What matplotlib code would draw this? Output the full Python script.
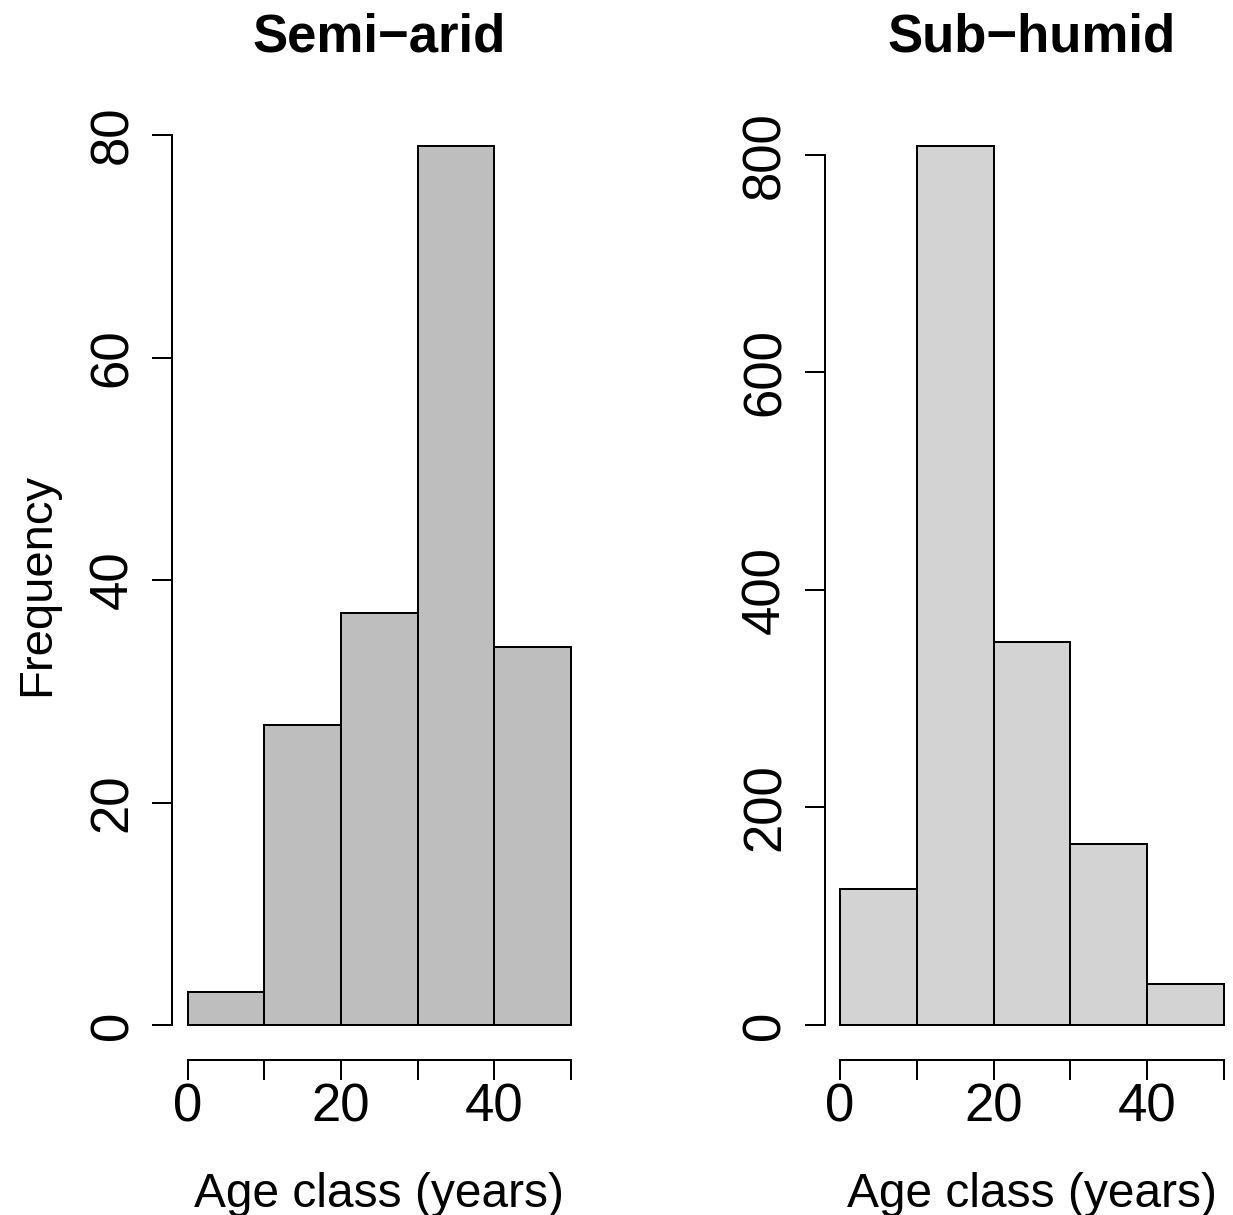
import matplotlib.pyplot as plt
import numpy as np

plt.rcParams['font.family'] = ['Liberation Sans', 'DejaVu Sans']

# Data - histogram counts per 10-year age class
edges = [0, 10, 20, 30, 40, 50]
semi_arid = [3, 27, 37, 79, 34]
sub_humid = [125, 808, 352, 166, 38]
semi_ticks = [0, 20, 40, 60, 80]
sub_ticks = [0, 200, 400, 600, 800]
x_ticks = [0, 10, 20, 30, 40, 50]
x_ticklabels = ['0', '', '20', '', '40', '']

W, H = 1233, 1215
fig = plt.figure(figsize=(W / 100, H / 100), dpi=100)
fig.patch.set_facecolor('white')

LW = 1.44


def panel(left_px, right_px, counts, yticks, color, title, ylabel=None):
    bottom_px, top_px = 1060.2, 111.0
    ax = fig.add_axes([left_px / W, 1 - bottom_px / H,
                       (right_px - left_px) / W, (bottom_px - top_px) / H])
    ymax = max(counts)
    ax.bar(edges[:-1], counts, width=10, align='edge', color=color,
           edgecolor='black', linewidth=LW)
    ax.set_xlim(-2, 52)
    ax.set_ylim(-0.04 * ymax, 1.04 * ymax)
    ax.spines['top'].set_visible(False)
    ax.spines['right'].set_visible(False)
    ax.spines['left'].set_bounds(yticks[0], yticks[-1])
    ax.spines['bottom'].set_bounds(0, 50)
    for s in ('left', 'bottom'):
        ax.spines[s].set_linewidth(LW)
    ax.set_xticks(x_ticks)
    ax.set_xticklabels(x_ticklabels)
    ax.set_yticks(yticks)
    ax.set_yticklabels([str(t) for t in yticks], rotation=90, va='center')
    ax.tick_params(axis='both', direction='out', length=14.4, width=LW,
                   labelsize=38)
    ax.tick_params(axis='x', pad=2)
    ax.tick_params(axis='y', pad=10)
    ax.patch.set_visible(False)

    cx = (left_px + right_px) / 2 / W
    fig.text(cx, 1 - 52 / H, title, ha='center', va='baseline',
             fontsize=38, fontweight='bold')
    fig.text(cx, 1 - 1207 / H, 'Age class (years)', ha='center',
             va='baseline', fontsize=34.5)
    if ylabel:
        fig.text(49 / W, 1 - 584 / H, ylabel, rotation=90,
                 rotation_mode='anchor', ha='center', va='baseline',
                 fontsize=34)
    return ax


panel(172.2, 586.3, semi_arid, semi_ticks, '#BEBEBE',
      'Semi\u2212arid', ylabel='Frequency')
panel(824.6, 1239.4, sub_humid, sub_ticks, '#D3D3D3', 'Sub\u2212humid')

plt.savefig('out.png', dpi=100, facecolor='white')
